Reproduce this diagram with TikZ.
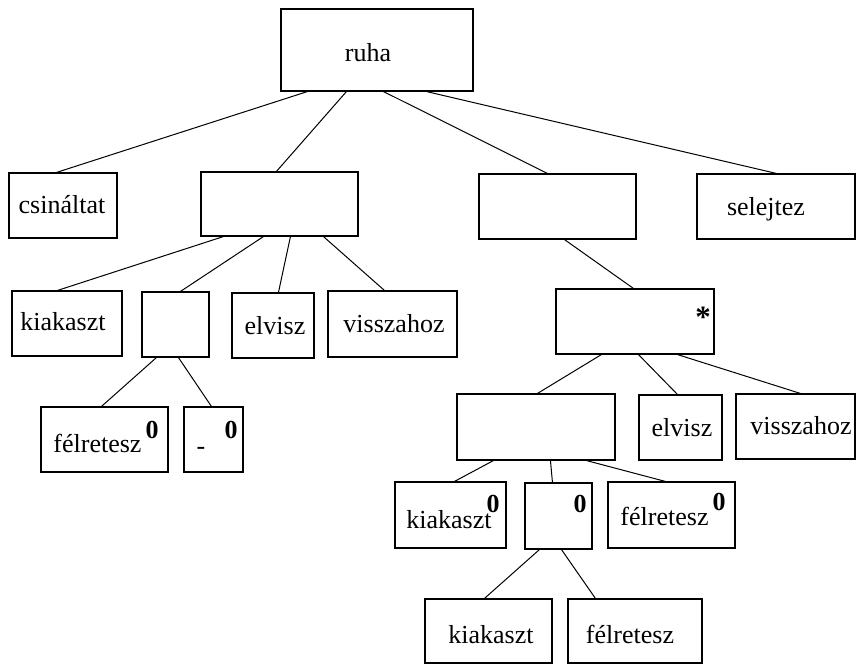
\documentclass[tikz,border=0pt]{standalone}
\usepackage{fontspec}
\setmainfont{Liberation Serif}
\tikzset{
  box/.style={draw, rectangle, line width=1.1pt, inner sep=0pt},
  conn/.style={line width=1pt},
  lbl/.style={anchor=base, inner sep=0pt, font=\fontsize{26}{30}\selectfont},
  zr/.style={anchor=base, inner sep=0pt, font=\fontsize{26}{30}\selectfont\bfseries},
  st/.style={anchor=base, inner sep=0pt, font=\fontsize{31}{34}\selectfont\bfseries},
}
\newcommand\mkbox[5]{\node[box, minimum width={(#4-#2)*1pt}, minimum height={(#5-#3)*1pt}] (#1) at ({(#2+#4)/2},{(#3+#5)/2}) {};}
\begin{document}
\begin{tikzpicture}[x=1pt,y=-1pt]
\useasboundingbox (0,0) rectangle (857,666);
% boxes
\mkbox{ruha}{281}{9}{473}{91}
\mkbox{csin}{9}{173}{117}{238}
\mkbox{bB}{201}{172}{358}{236}
\mkbox{bC}{479}{174}{636}{239}
\mkbox{sel}{697}{174}{855}{239}
\mkbox{kiaA}{12}{291}{122}{356}
\mkbox{sm}{142}{292}{209}{357}
\mkbox{elvA}{232}{293}{314}{358}
\mkbox{visA}{328}{291}{457}{357}
\mkbox{felA}{41}{407}{168}{472}
\mkbox{dash}{184}{407}{243}{472}
\mkbox{star}{556}{289}{714}{354}
\mkbox{low}{457}{394}{615}{460}
\mkbox{elvB}{639}{395}{722}{460}
\mkbox{visB}{736}{394}{855}{459}
\mkbox{kiaB}{395}{482}{506}{548}
\mkbox{zero}{525}{483}{592}{549}
\mkbox{felB}{608}{482}{735}{548}
\mkbox{kiaC}{425}{599}{552}{663}
\mkbox{felC}{568}{599}{702}{663}
% texts
\node[lbl] (t-ruha) at (368,62) {ruha};
\node[lbl] (t-csin) at (62,213) {csináltat};
\node[lbl] (t-sel) at (766,215) {selejtez};
\node[lbl] (t-kiaA) at (63,330) {kiakaszt};
\node[lbl] (t-elvA) at (275,334) {elvisz};
\node[lbl] (t-visA) at (394,332) {visszahoz};
\node[lbl] (t-felA) at (97.5,452) {félretesz};
\node[zr] (z-felA) at (152,438) {0};
\node[lbl] (t-dash) at (201,454) {-};
\node[zr] (z-dash) at (231,438) {0};
\node[st] (t-star) at (703,327) {*};
\node[lbl] (t-elvB) at (682,436) {elvisz};
\node[lbl] (t-visB) at (801,434) {visszahoz};
\node[lbl] (t-kiaB) at (449,528) {kiakaszt};
\node[zr] (z-kiaB) at (493,512) {0};
\node[zr] (z-zero) at (580,512) {0};
\node[lbl] (t-felB) at (664.5,525) {félretesz};
\node[zr] (z-felB) at (719,510) {0};
\node[lbl] (t-kiaC) at (491,643) {kiakaszt};
\node[lbl] (t-felC) at (630,643) {félretesz};
% connectors
\draw[conn] ([xshift=27pt]ruha.south west) -- ([xshift=48pt]csin.north west);
\draw[conn] ([xshift=66pt]ruha.south west) -- ([xshift=76pt]bB.north west);
\draw[conn] ([xshift=103pt]ruha.south west) -- ([xshift=69pt]bC.north west);
\draw[conn] ([xshift=146pt]ruha.south west) -- ([xshift=80pt]sel.north west);
\draw[conn] ([xshift=23pt]bB.south west) -- ([xshift=46pt]kiaA.north west);
\draw[conn] ([xshift=63pt]bB.south west) -- ([xshift=39pt]sm.north west);
\draw[conn] ([xshift=90pt]bB.south west) -- ([xshift=47pt]elvA.north west);
\draw[conn] ([xshift=123pt]bB.south west) -- ([xshift=57pt]visA.north west);
\draw[conn] ([xshift=15pt]sm.south west) -- ([xshift=61pt]felA.north west);
\draw[conn] ([xshift=37pt]sm.south west) -- ([xshift=28pt]dash.north west);
\draw[conn] ([xshift=86pt]bC.south west) -- ([xshift=78pt]star.north west);
\draw[conn] ([xshift=46pt]star.south west) -- ([xshift=81pt]low.north west);
\draw[conn] ([xshift=83pt]star.south west) -- ([xshift=39pt]elvB.north west);
\draw[conn] ([xshift=122pt]star.south west) -- ([xshift=65pt]visB.north west);
\draw[conn] ([xshift=37pt]low.south west) -- ([xshift=60pt]kiaB.north west);
\draw[conn] ([xshift=94pt]low.south west) -- ([xshift=28pt]zero.north west);
\draw[conn] ([xshift=130pt]low.south west) -- ([xshift=58pt]felB.north west);
\draw[conn] ([xshift=15pt]zero.south west) -- ([xshift=60pt]kiaC.north west);
\draw[conn] ([xshift=37pt]zero.south west) -- ([xshift=28pt]felC.north west);
\end{tikzpicture}
\end{document}
